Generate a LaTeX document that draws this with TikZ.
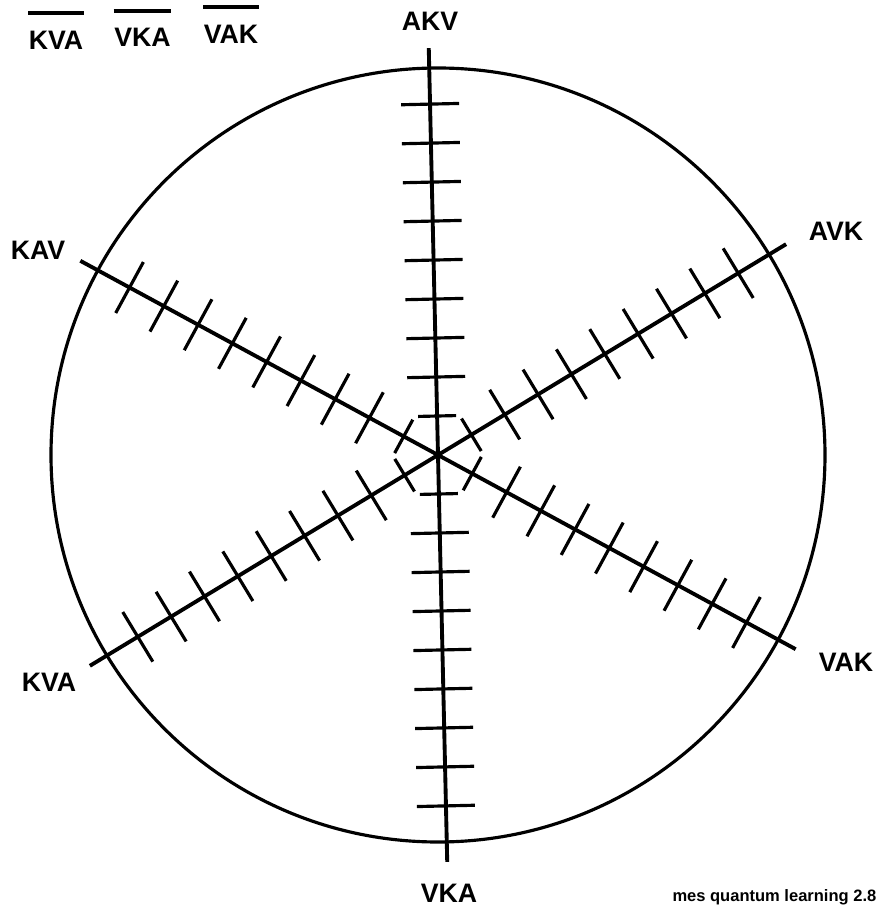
\documentclass[tikz,border=0pt]{standalone}
\usepackage{fontspec}
\setmainfont{Liberation Sans}
\begin{document}
\begin{tikzpicture}[
  axis/.style={line width=1.1pt},
  tickmark/.style={line width=0.9pt},
  lab/.style={font=\bfseries\fontsize{7.6}{9}\selectfont, inner sep=0pt},
  bar/.style={line width=1.1pt}]
\useasboundingbox (-4.38,-4.51) rectangle (4.41,4.55);
\draw[line width=0.9pt] (0,0) circle (3.87);
% three axes, ticks every 0.39
\foreach \a in {31.2,91.3,151.5} {
  \begin{scope}[rotate=\a]
    \draw[axis] (-4.07,0) -- (4.07,0);
    \foreach \k in {1,...,9} {
      \pgfmathsetmacro\h{\k==1 ? 0.19 : 0.29}
      \draw[tickmark] (\k*0.39,-\h) -- (\k*0.39,\h);
      \draw[tickmark] (-\k*0.39,-\h) -- (-\k*0.39,\h);
    }
  \end{scope}
}
% axis labels
\node[lab] (akv) at (-0.08,4.34) {AKV};
\node[lab] (kav) at (-4.00,2.05) {KAV};
\node[lab] (avk) at (3.98,2.24) {AVK};
\node[lab] (kva) at (-3.89,-2.27) {KVA};
\node[lab] (vak) at (4.08,-2.07) {VAK};
\node[lab] (vka) at (0.11,-4.38) {VKA};
% legend
\node[lab] (lkva) at (-3.82,4.15) {KVA};
\node[lab] (lvka) at (-2.955,4.175) {VKA};
\node[lab] (lvak) at (-2.07,4.21) {VAK};
\foreach \n in {lkva,lvka,lvak}
  \draw[bar] ([yshift=4.8pt]\n.north west) -- ([yshift=4.8pt]\n.north east);
\node[font=\bfseries\fontsize{4.7}{6}\selectfont, inner sep=0pt, anchor=base east] (note) at (4.39,-4.465) {mes quantum learning 2.8};
\end{tikzpicture}
\end{document}
